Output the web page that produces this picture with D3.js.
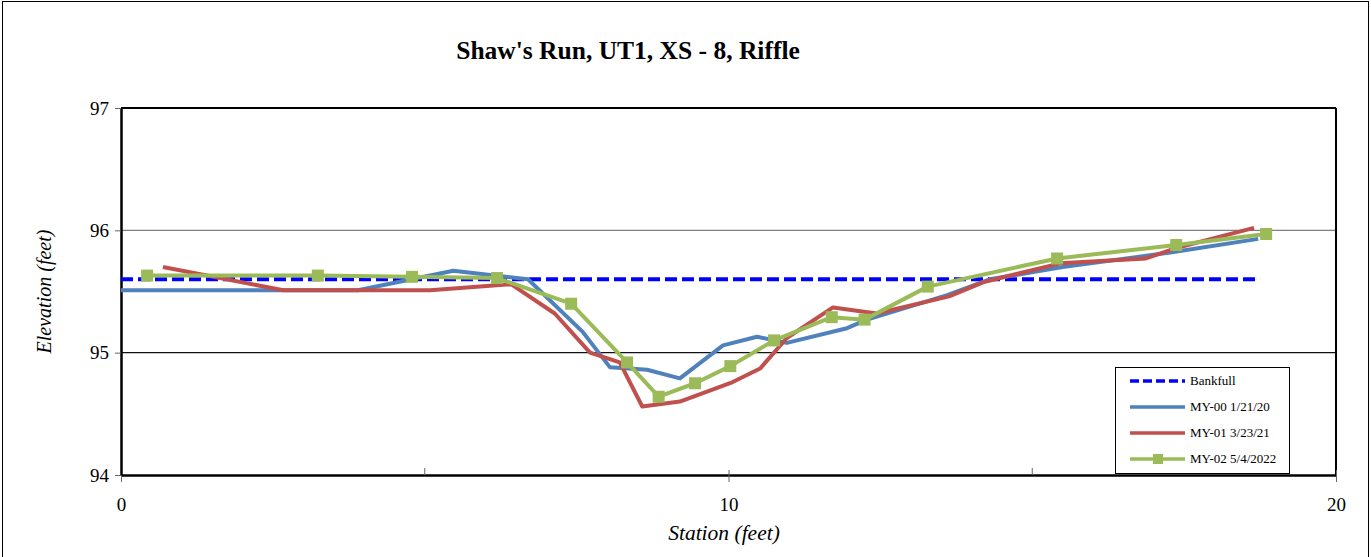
<!DOCTYPE html>
<html>
<head>
<meta charset="utf-8">
<script src="https://cdn.jsdelivr.net/npm/d3@7"></script>
<style>
  body { margin: 0; background: #fff; }
  svg { display: block; }
  svg text { font-family: "Liberation Serif", serif; }
</style>
</head>
<body>
<div id="chart"></div>
<script>
// values
var bankfullX = [0, 18.75];
var bankfullY = [95.60, 95.60];

var my00X = [0, 3.9, 5.47, 6.7, 7.6, 8.05, 8.66, 9.2, 9.91, 10.47, 10.96, 11.95, 12.28, 13.6, 14.3, 15.5, 17.3, 18.72];
var my00Y = [95.51, 95.51, 95.67, 95.60, 95.17, 94.88, 94.86, 94.79, 95.06, 95.13, 95.08, 95.20, 95.27, 95.47, 95.60, 95.70, 95.82, 95.93];

var my01X = [0.69, 2.67, 5.09, 6.42, 7.14, 7.72, 8.21, 8.58, 9.2, 10.07, 10.52, 10.96, 11.72, 12.44, 13.63, 14.22, 15.46, 16.87, 17.4, 18.65];
var my01Y = [95.70, 95.51, 95.51, 95.56, 95.32, 95.00, 94.92, 94.56, 94.60, 94.76, 94.87, 95.12, 95.37, 95.32, 95.46, 95.58, 95.73, 95.77, 95.86, 96.02];

var my02X = [0.43, 3.24, 4.79, 6.19, 7.41, 8.33, 8.85, 9.45, 10.03, 10.75, 11.70, 12.24, 13.28, 15.41, 17.37, 18.85];
var my02Y = [95.63, 95.63, 95.62, 95.61, 95.40, 94.92, 94.64, 94.75, 94.89, 95.10, 95.29, 95.27, 95.54, 95.77, 95.88, 95.97];

var xTicks = [0, 10, 20];
var xMinorTicks = [5, 15];
var yTicks = [94, 95, 96, 97];

var seriesNames = ["Bankfull", "MY-00 1/21/20", "MY-01 3/23/21", "MY-02 5/4/2022"];
var seriesColors = ["#0000FF", "#4F81BD", "#C0504D", "#9BBB59"];

var width = 1371, height = 557;
var margin = { left: 121, right: 35, top: 108, bottom: 82 };
var serif = "Liberation Serif";

var svg = d3.select("#chart").append("svg")
    .attr("width", width)
    .attr("height", height)
    .attr("font-family", serif);

// outer chart frame
svg.append("rect")
    .attr("x", 2.5).attr("y", 1.5)
    .attr("width", width - 5).attr("height", height + 10)
    .attr("fill", "none").attr("stroke", "#000").attr("stroke-width", 1);

var x = d3.scaleLinear().domain([0, 20]).range([margin.left, width - margin.right]);
var y = d3.scaleLinear().domain([94, 97]).range([height - margin.bottom, margin.top]);

// gridlines
svg.append("line")
    .attr("x1", x(0)).attr("x2", x(20))
    .attr("y1", y(96)).attr("y2", y(96))
    .attr("stroke", "#808080").attr("stroke-width", 1.2);
svg.append("line")
    .attr("x1", x(0)).attr("x2", x(20))
    .attr("y1", y(95)).attr("y2", y(95))
    .attr("stroke", "#111").attr("stroke-width", 1.2);

// plot frame: top and right
svg.append("line")
    .attr("x1", x(0)).attr("x2", x(20)).attr("y1", y(97)).attr("y2", y(97))
    .attr("stroke", "#000").attr("stroke-width", 2);
svg.append("line")
    .attr("x1", x(20)).attr("x2", x(20)).attr("y1", y(97)).attr("y2", y(94))
    .attr("stroke", "#000").attr("stroke-width", 2);

// axes
var xAxis = svg.append("g")
    .attr("transform", "translate(0," + y(94) + ")")
    .call(d3.axisBottom(x).tickValues(xTicks).tickFormat(d3.format("d")).tickSizeInner(7).tickSizeOuter(0).tickPadding(16));
xAxis.attr("font-family", serif);
xAxis.select(".domain").attr("stroke", "#000").attr("stroke-width", 2.5);
xAxis.selectAll(".tick line").attr("y1", -5).attr("stroke", "#666");
xAxis.selectAll("text").attr("font-size", 19).attr("fill", "#000");

svg.append("g").selectAll("line")
    .data(xMinorTicks).enter().append("line")
    .attr("x1", function (d) { return x(d); })
    .attr("x2", function (d) { return x(d); })
    .attr("y1", y(94)).attr("y2", y(94) - 7)
    .attr("stroke", "#666");

var yAxis = svg.append("g")
    .attr("transform", "translate(" + x(0) + ",0)")
    .call(d3.axisLeft(y).tickValues(yTicks).tickFormat(d3.format("d")).tickSizeInner(6).tickSizeOuter(0).tickPadding(6));
yAxis.attr("font-family", serif);
yAxis.select(".domain").attr("stroke", "#000").attr("stroke-width", 2.5);
yAxis.selectAll(".tick line").attr("stroke", "#666");
yAxis.selectAll("text").attr("font-size", 19).attr("fill", "#000");

// series
var line = d3.line()
    .x(function (d) { return x(d[0]); })
    .y(function (d) { return y(d[1]); });

var bankfull = d3.zip(bankfullX, bankfullY);
var my00 = d3.zip(my00X, my00Y);
var my01 = d3.zip(my01X, my01Y);
var my02 = d3.zip(my02X, my02Y);

svg.append("path").datum(bankfull).attr("d", line)
    .attr("fill", "none").attr("stroke", seriesColors[0])
    .attr("stroke-width", 4).attr("stroke-dasharray", "12,5");

svg.append("path").datum(my00).attr("d", line)
    .attr("fill", "none").attr("stroke", seriesColors[1])
    .attr("stroke-width", 4).attr("stroke-linejoin", "round");

svg.append("path").datum(my01).attr("d", line)
    .attr("fill", "none").attr("stroke", seriesColors[2])
    .attr("stroke-width", 4).attr("stroke-linejoin", "round");

svg.append("path").datum(my02).attr("d", line)
    .attr("fill", "none").attr("stroke", seriesColors[3])
    .attr("stroke-width", 4).attr("stroke-linejoin", "round");

svg.append("g").selectAll("rect")
    .data(my02).enter().append("rect")
    .attr("x", function (d) { return x(d[0]) - 6; })
    .attr("y", function (d) { return y(d[1]) - 6; })
    .attr("width", 12).attr("height", 12)
    .attr("fill", seriesColors[3]);

// title and axis titles
svg.append("text")
    .attr("x", 628).attr("y", 59)
    .attr("text-anchor", "middle")
    .attr("font-size", 25.5).attr("font-weight", "bold")
    .text("Shaw's Run, UT1, XS - 8, Riffle");

svg.append("text")
    .attr("x", 724).attr("y", 540)
    .attr("text-anchor", "middle")
    .attr("font-size", 21.5).attr("font-style", "italic")
    .text("Station (feet)");

svg.append("text")
    .attr("transform", "translate(51," + y(95.5) + ")rotate(-90)")
    .attr("text-anchor", "middle")
    .attr("font-size", 20).attr("font-style", "italic")
    .text("Elevation (feet)");

// legend
var legend = svg.append("g").attr("transform", "translate(1115,367)");
legend.append("rect")
    .attr("x", 0.5).attr("y", 0.5).attr("width", 174).attr("height", 106)
    .attr("fill", "#fff").attr("stroke", "#000").attr("stroke-width", 1);

var items = legend.selectAll("g.item")
    .data(seriesNames).enter().append("g")
    .attr("class", "item")
    .attr("transform", function (d, i) { return "translate(0," + (14 + i * 26) + ")"; });

items.append("line")
    .attr("x1", 15).attr("x2", 70).attr("y1", 0).attr("y2", 0)
    .attr("stroke", function (d, i) { return seriesColors[i]; })
    .attr("stroke-width", 3.5)
    .attr("stroke-dasharray", function (d, i) { return i === 0 ? "9,4" : null; });

items.filter(function (d, i) { return i === 3; })
    .append("rect")
    .attr("x", 38).attr("y", -5).attr("width", 10).attr("height", 10)
    .attr("fill", seriesColors[3]);

items.append("text")
    .attr("x", 75).attr("y", 4)
    .attr("font-size", 13)
    .text(function (d) { return d; });
</script>
</body>
</html>
